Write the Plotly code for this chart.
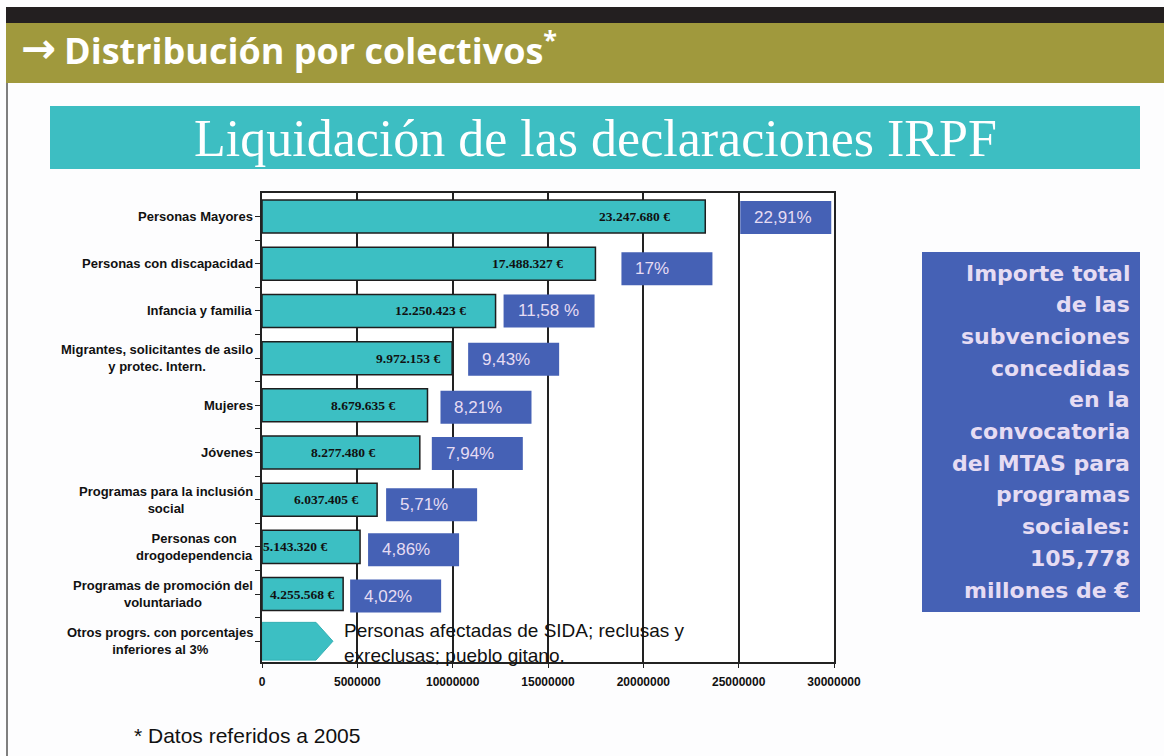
import plotly.graph_objects as go

# ---------------- data ----------------
categories = [
    "Personas Mayores",
    "Personas con discapacidad",
    "Infancia y familia",
    "Migrantes, solicitantes de asilo<br>y protec. Intern.",
    "Mujeres",
    "Jóvenes",
    "Programas para la inclusión<br>social",
    "Personas con<br>drogodependencia",
    "Programas de promoción del<br>voluntariado",
    "Otros progrs. con porcentajes<br>inferiores al 3%",
]
values = [23247680, 17488327, 12250423, 9972153, 8679635, 8277480, 6037405, 5143320, 4255568]
pct_labels = ["22,91%", "17%", "11,58 %", "9,43%", "8,21%", "7,94%", "5,71%", "4,86%", "4,02%"]
x_ticks = [0, 5000000, 10000000, 15000000, 20000000, 25000000, 30000000]
other_note = "Personas afectadas de SIDA; reclusas y<br>exreclusas; pueblo gitano."
total_lines = ["Importe total", "de las", "subvenciones", "concedidas", "en la",
               "convocatoria", "del MTAS para", "programas", "sociales:", "105,778",
               "millones de €"]
header_title = "Distribución por colectivos"
banner_title = "Liquidación de las declaraciones IRPF"
footnote = "* Datos referidos a 2005"

value_labels = [f"{v:,}".replace(",", ".") + " €" for v in values]

# ---------------- styling ----------------
W, H = 1164, 756
TEAL = "#3cbfc3"
BLUE = "#4561b5"
OLIVE = "#a0993d"
LIGHT = "#e6dcf3"
DARK = "#1e1e1e"

label_shift = [-33, -30, -28, -10, -30, -43, -17, -31, -7]   # px, value label right edge vs bar end
box_shift = [35, 26, 8, 16, 13, 12, 9, 8, 7]                 # px, % box left edge vs bar end
box_dy = [1, 5, 0, 1, 2, 1, 5, 3, 2]                         # px down
BOX_W, BOX_H = 91, 33


def px(x):
    return x / W


def py(y):
    return 1 - y / H


n = len(values)
rows = list(range(len(categories)))

fig = go.Figure()
fig.add_trace(go.Bar(
    x=values, y=rows[:n], orientation="h", width=0.7,
    marker=dict(color=TEAL, line=dict(color=DARK, width=1.5)),
    hoverinfo="skip",
))

shapes = []
annotations = []

# header bands
shapes.append(dict(type="rect", xref="paper", yref="paper", x0=px(6), x1=px(W), y0=py(23), y1=py(7),
                   fillcolor="#231f20", line=dict(width=0), layer="below"))
shapes.append(dict(type="rect", xref="paper", yref="paper", x0=px(6), x1=px(W), y0=py(83), y1=py(23),
                   fillcolor=OLIVE, line=dict(width=0), layer="below"))
shapes.append(dict(type="line", xref="paper", yref="paper", x0=px(7), x1=px(7), y0=py(756), y1=py(83),
                   line=dict(color="#555555", width=1.5)))
# teal banner
shapes.append(dict(type="rect", xref="paper", yref="paper", x0=px(50), x1=px(1140), y0=py(169), y1=py(106),
                   fillcolor="#3dbec2", line=dict(width=0), layer="below"))
# right total box
shapes.append(dict(type="rect", xref="paper", yref="paper", x0=px(922), x1=px(1140), y0=py(612), y1=py(252),
                   fillcolor=BLUE, line=dict(width=0), layer="below"))

# header texts
annotations.append(dict(text="<b>→</b>", xref="paper", yref="paper", x=px(19), y=py(49),
                        xanchor="left", yanchor="middle", showarrow=False,
                        font=dict(family="DejaVu Sans", size=42, color="white")))
annotations.append(dict(text=f"<b>{header_title}</b><sup><b>*</b></sup>", xref="paper", yref="paper",
                        x=px(62), y=py(48), xanchor="left", yanchor="middle", showarrow=False,
                        font=dict(family="Open Sans", size=36, color="white")))
annotations.append(dict(text=banner_title, xref="paper", yref="paper", x=px(595), y=py(138),
                        xanchor="center", yanchor="middle", showarrow=False,
                        font=dict(family="Liberation Serif", size=52, color="white")))

# category labels
for i, c in enumerate(categories):
    annotations.append(dict(text=f"<b>{c}</b>", xref="paper", yref="y", x=px(255), y=i,
                            xanchor="right", yanchor="middle", align="center", showarrow=False,
                            font=dict(family="Liberation Sans", size=13, color="#111111")))

# value labels and percentage boxes
for i in range(n):
    annotations.append(dict(text=f"<b>{value_labels[i]}</b>", x=values[i], y=i, xref="x", yref="y",
                            xanchor="right", yanchor="middle", xshift=label_shift[i], showarrow=False,
                            font=dict(family="Liberation Serif", size=13.5, color="#111111")))
    shapes.append(dict(type="rect", xref="x", yref="y", xsizemode="pixel", ysizemode="pixel",
                       xanchor=values[i], yanchor=i,
                       x0=box_shift[i], x1=box_shift[i] + BOX_W,
                       y0=-box_dy[i] - BOX_H / 2, y1=-box_dy[i] + BOX_H / 2,
                       fillcolor=BLUE, line=dict(width=0), layer="above"))
    annotations.append(dict(text=pct_labels[i], x=values[i], y=i, xref="x", yref="y",
                            xanchor="left", yanchor="middle", xshift=box_shift[i] + 12,
                            yshift=-box_dy[i], showarrow=False,
                            font=dict(family="Liberation Sans", size=17, color=LIGHT)))

# "Otros" arrow
last = rows[-1]
a_len, a_tip, a_half = 2830000, 3720000, 0.4
shapes.append(dict(type="path", xref="x", yref="y",
                   path=(f"M 0,{last - a_half} L {a_len},{last - a_half} L {a_tip},{last} "
                         f"L {a_len},{last + a_half} L 0,{last + a_half} Z"),
                   fillcolor=TEAL, line=dict(color="#35b0b4", width=1), layer="above"))
annotations.append(dict(text=other_note, xref="paper", yref="y", x=px(342), y=last, yshift=-2,
                        xanchor="left", yanchor="middle", align="left", showarrow=False,
                        font=dict(family="Liberation Sans", size=19, color="#111111")))

# right box lines
for k, line in enumerate(total_lines):
    annotations.append(dict(text=f"<b>{line}</b>", xref="paper", yref="paper", x=px(1132),
                            y=py(273 + k * 31.7), xanchor="right", yanchor="middle", showarrow=False,
                            font=dict(family="DejaVu Sans", size=22, color=LIGHT)))

# footnote
annotations.append(dict(text=footnote, xref="paper", yref="paper", x=px(132), y=py(735),
                        xanchor="left", yanchor="middle", showarrow=False,
                        font=dict(family="Liberation Sans", size=21, color="#111111")))

fig.update_layout(
    template="none",
    width=W, height=H, autosize=False,
    margin=dict(l=0, r=0, t=0, b=0, pad=0, autoexpand=False),
    paper_bgcolor="#fdfdfe", plot_bgcolor="white", showlegend=False,
    font=dict(family="Liberation Sans", color="#111111"),
    shapes=shapes, annotations=annotations,
    xaxis=dict(domain=[px(262), px(834)], range=[0, 30000000], tickvals=x_ticks, tickformat="d",
               automargin=False,
               showgrid=True, gridcolor="#222222", gridwidth=1.5, zeroline=False,
               showline=True, linecolor="#222222", linewidth=1.5, mirror=True,
               ticks="outside", ticklen=4, tickcolor="#222222", ticklabelstandoff=4,
               tickfont=dict(family="Liberation Sans", size=12, color="#111111", weight="bold")),
    yaxis=dict(domain=[py(662), py(193)], range=[9.44, -0.5], tickvals=rows, showticklabels=False,
               automargin=False,
               showgrid=False, zeroline=False, showline=True, linecolor="#222222", linewidth=1.5,
               mirror=True, ticks="outside", ticklen=5, tickcolor="#222222",
               minor=dict(tickvals=[i + 0.5 for i in rows[:-1]], ticks="outside", ticklen=5,
                          tickcolor="#222222", showgrid=False)),
)

page_fix = (
    "document.documentElement.style.margin='0';"
    "document.documentElement.style.overflow='hidden';"
    "document.body.style.margin='0';"
    "document.body.style.overflow='hidden';"
    "var gd=document.getElementById('{plot_id}');"
    "gd.style.position='absolute';gd.style.left='0px';gd.style.top='0px';"
)
fig.write_html("out.html", post_script=page_fix,
               config={"displayModeBar": False, "responsive": False})
